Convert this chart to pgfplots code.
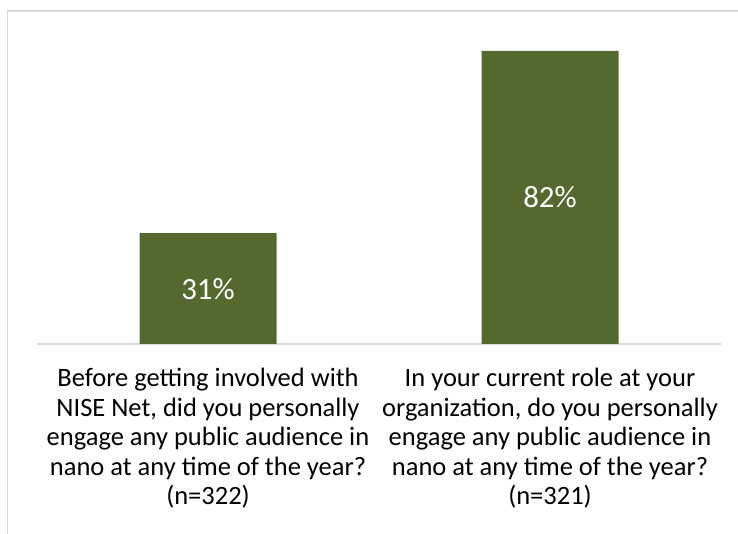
\documentclass[border=0pt]{standalone}
\usepackage{pgfplots}
\pgfplotsset{compat=1.18}
\usepackage{fontspec}
\setmainfont{Carlito}
\definecolor{barolive}{RGB}{84,105,46}
\definecolor{framegray}{RGB}{217,217,217}

\begin{document}
\begin{tikzpicture}[x=1bp,y=1bp]
  \useasboundingbox (0,0) rectangle (738,534);
  \draw[framegray, line width=1.5bp] (7.3,0) -- (7.3,523) -- (738,523);
  \begin{axis}[
    at={(208bp,190bp)}, anchor=origin,
    scale only axis,
    width=684bp, height=321.6bp,
    xmin=-0.5, xmax=1.5,
    ymin=0, ymax=90,
    axis y line=none,
    axis x line*=bottom,
    x axis line style={framegray, line width=1.2bp, -},
    xtick=data,
    xtick style={draw=none},
    xticklabels={
      {Before getting involved with\\NISE Net, did you personally\\engage any public audience in\\nano at any time of the year?\\(n=322)},
      {In your current role at your\\organization, do you personally\\engage any public audience in\\nano at any time of the year?\\(n=321)}},
    xticklabel style={align=center, font=\fontsize{26.6}{29.5}\selectfont, yshift=-21bp},
    clip=false,
  ]
    \addplot[ybar, bar width=137bp, fill=barolive, draw=none]
      coordinates {(0,31) (1,82)};
    \addplot[draw=none, mark=none, nodes near coords, point meta=explicit symbolic,
      every node near coord/.style={anchor=center, text=white, font=\fontsize{31}{32}\selectfont}]
      coordinates {(0,15.5) [31\%] (1,41) [82\%]};
  \end{axis}
\end{tikzpicture}
\end{document}
